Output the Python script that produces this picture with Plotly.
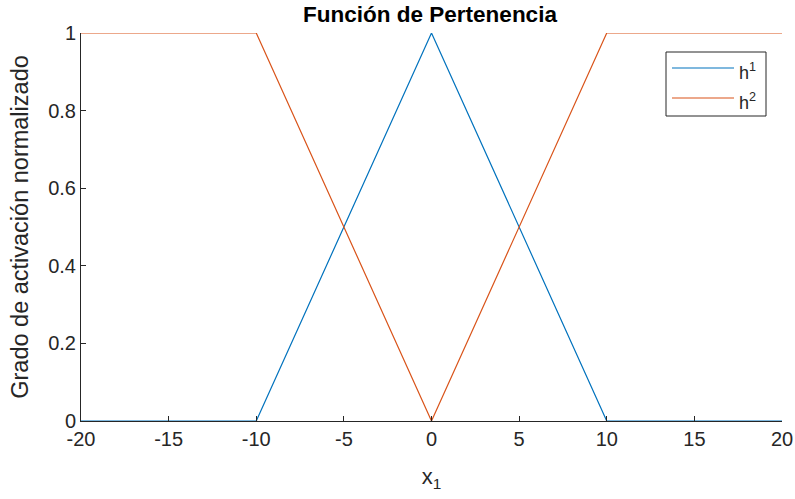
import plotly.graph_objects as go

x_vals = [-20, -10, 0, 10, 20]
h1_vals = [0, 0, 1, 0, 0]
h2_vals = [1, 1, 0, 1, 1]
series_names = ["h<sup>1</sup>", "h<sup>2</sup>"]
series_colors = ["#0072BD", "#D95319"]
x_ticks = [-20, -15, -10, -5, 0, 5, 10, 15, 20]
x_tick_labels = ["-20", "-15", "-10", "-5", "0", "5", "10", "15", "20"]
y_ticks = [0, 0.2, 0.4, 0.6, 0.8, 1]
y_tick_labels = ["0", "0.2", "0.4", "0.6", "0.8", "1"]

FONT = "Liberation Sans, Arial, sans-serif"
AX = "#262626"

# plot area in pixels
L, R, T, B = 81, 782, 33, 421
W, H = 795, 499
def px(x):
    return (x - L) / (R - L)
def py(y):
    return (B - y) / (B - T)

fig = go.Figure()
for yv, name, col in zip([h1_vals, h2_vals], series_names, series_colors):
    fig.add_trace(go.Scatter(x=x_vals, y=yv, mode="lines", name=name,
                             line=dict(color=col, width=1.2), showlegend=False))

# legend drawn manually (MATLAB style: long line samples)
shapes = [dict(type="rect", xref="paper", yref="paper",
               x0=px(666), x1=px(766), y0=py(116), y1=py(52),
               line=dict(color=AX, width=1), fillcolor="white", layer="above")]
annotations = []
for i, (name, col) in enumerate(zip(series_names, series_colors)):
    yy = 68 + 30 * i
    shapes.append(dict(type="line", xref="paper", yref="paper",
                       x0=px(672), x1=px(734), y0=py(yy), y1=py(yy),
                       line=dict(color=col, width=1.2), layer="above"))
    annotations.append(dict(text=name, xref="paper", yref="paper",
                            x=px(737), y=py(yy + 3), xanchor="left", yanchor="middle",
                            showarrow=False, font=dict(size=18, color=AX, family=FONT)))

fig.update_layout(
    width=W, height=H,
    margin=dict(l=L, r=W - R, t=T, b=H - B, autoexpand=False),
    paper_bgcolor="white", plot_bgcolor="white",
    font=dict(family=FONT, size=20, color=AX),
    title=dict(text="<b>Función de Pertenencia</b>", x=430 / W, xanchor="center",
               y=1 - 14 / H, yanchor="middle", font=dict(size=22.5, color="black")),
    showlegend=False,
    shapes=shapes,
    annotations=annotations,
    xaxis=dict(range=[-20, 20], tickvals=x_ticks, ticktext=x_tick_labels,
               ticks="inside", ticklen=5,
               tickcolor=AX, showline=True, linecolor=AX, linewidth=1,
               showgrid=False, zeroline=False, mirror=False, automargin=False,
               tickfont=dict(size=20, color=AX),
               title=dict(text="x<sub>1</sub>", font=dict(size=22, color=AX), standoff=19)),
    yaxis=dict(range=[0, 1], tickvals=y_ticks, ticktext=y_tick_labels,
               ticks="inside", ticklen=5,
               tickcolor=AX, showline=True, linecolor=AX, linewidth=1,
               showgrid=False, zeroline=False, mirror=False, automargin=False,
               tickfont=dict(size=20, color=AX),
               title=dict(text="Grado de activación normalizado", font=dict(size=23.5, color=AX), standoff=12)),
)

fig.write_html("out.html", config={"displayModeBar": False},
               post_script="document.body.style.margin='0';")
